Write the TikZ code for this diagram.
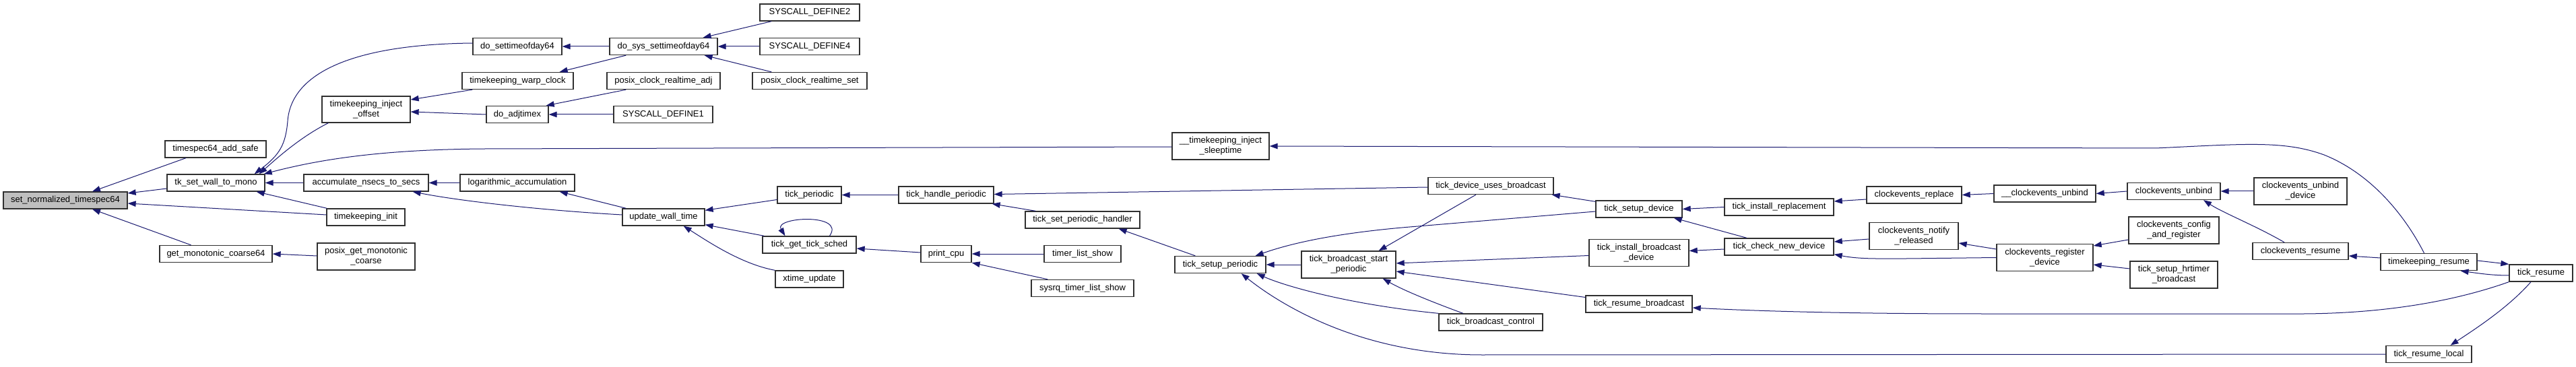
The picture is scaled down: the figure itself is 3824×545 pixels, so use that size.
\documentclass[tikz,border=0pt]{standalone}
\usepackage{fontspec}
\setmainfont{Liberation Sans}
\usetikzlibrary{arrows.meta}
\definecolor{edgec}{RGB}{25,25,112}
\definecolor{boxc}{RGB}{48,48,48}
\definecolor{rootfill}{RGB}{191,191,191}
\newcommand\gn[6]{\node[fn,minimum width=#4pt,minimum height=#5pt] (#1) at (#2,#3) {#6};}
\begin{document}
\begin{tikzpicture}[x=1pt,y=-1pt,
 fn/.style={draw=boxc,line width=1.3pt,fill=white,inner sep=0pt,align=center,font=\fontsize{13}{15}\selectfont},
 root/.style={fn,fill=rootfill},
 edge/.style={draw=edgec,line width=1pt,{Triangle[length=12pt,width=8.5pt]}-}]
\useasboundingbox (0,0) rectangle (3824,545);
\fill[white] (0,0) rectangle (3824,545);
% nodes
\node[root,minimum width=184pt,minimum height=25pt] (sn) at (97,297.5) {set\_normalized\_timespec64};
\gn{add}{320}{221.5}{150}{25}{timespec64\_add\_safe}
\gn{tkw}{320.5}{271.5}{145}{25}{tk\_set\_wall\_to\_mono}
\gn{gmc}{320.5}{377}{167}{25}{get\_monotonic\_coarse64}
\gn{tio}{543.5}{162.5}{131}{39}{timekeeping\_inject\\\_offset}
\gn{ans}{543.5}{271.5}{185}{25}{accumulate\_nsecs\_to\_secs}
\gn{tki}{543}{322.5}{116}{25}{timekeeping\_init}
\gn{pgm}{543.5}{381}{145}{40}{posix\_get\_monotonic\\\_coarse}
\gn{dst}{768}{69}{132}{25}{do\_settimeofday64}
\gn{twc}{768.5}{120}{165}{25}{timekeeping\_warp\_clock}
\gn{dax}{768}{170}{92}{25}{do\_adjtimex}
\gn{lac}{768}{271.5}{170}{25}{logarithmic\_accumulation}
\gn{dss}{985}{69}{160}{25}{do\_sys\_settimeofday64}
\gn{pca}{985}{120}{168}{25}{posix\_clock\_realtime\_adj}
\gn{sd1}{984.5}{170}{147}{25}{SYSCALL\_DEFINE1}
\gn{uwt}{985}{322.5}{122}{25}{update\_wall\_time}
\gn{sd2}{1202}{18.5}{148}{25}{SYSCALL\_DEFINE2}
\gn{sd4}{1202}{69}{148}{25}{SYSCALL\_DEFINE4}
\gn{pcs}{1202}{120}{170}{25}{posix\_clock\_realtime\_set}
\gn{tpe}{1201.5}{289.5}{95}{25}{tick\_periodic}
\gn{tgs}{1201.5}{363.5}{139}{25}{tick\_get\_tick\_sched}
\gn{xtu}{1201.5}{414.5}{101}{25}{xtime\_update}
\gn{thp}{1404.5}{289.5}{141}{25}{tick\_handle\_periodic}
\gn{pcpu}{1404.5}{377}{75}{25}{print\_cpu}
\gn{tsph}{1607}{326.5}{170}{25}{tick\_set\_periodic\_handler}
\gn{tls}{1607}{377}{114}{25}{timer\_list\_show}
\gn{stls}{1607}{428}{152}{25}{sysrq\_timer\_list\_show}
\gn{tis}{1812}{217}{144}{40}{\_\_timekeeping\_inject\\\_sleeptime}
\gn{tsp}{1811.5}{393}{135}{25}{tick\_setup\_periodic}
\gn{tbsp}{2002}{393}{140}{40}{tick\_broadcast\_start\\\_periodic}
\gn{tdub}{2213}{276}{186}{25}{tick\_device\_uses\_broadcast}
\gn{tbc}{2213}{478.5}{154}{25}{tick\_broadcast\_control}
\gn{tsd}{2433}{310.5}{128}{25}{tick\_setup\_device}
\gn{tibd}{2433}{375.5}{148}{40}{tick\_install\_broadcast\\\_device}
\gn{trb}{2433}{451.5}{158}{25}{tick\_resume\_broadcast}
\gn{tir}{2641}{307.5}{162}{25}{tick\_install\_replacement}
\gn{tcnd}{2641}{366.5}{162}{25}{tick\_check\_new\_device}
\gn{cer}{2841.5}{289.5}{141}{25}{clockevents\_replace}
\gn{cenr}{2841}{350.5}{132}{40}{clockevents\_notify\\\_released}
\gn{uceu}{3035.5}{287.5}{151}{25}{\_\_clockevents\_unbind}
\gn{cerd}{3035.5}{382.5}{143}{40}{clockevents\_register\\\_device}
\gn{ceu}{3227}{284}{138}{25}{clockevents\_unbind}
\gn{ceconf}{3227}{342}{134}{40}{clockevents\_config\\\_and\_register}
\gn{tshb}{3227}{408}{130}{40}{tick\_setup\_hrtimer\\\_broadcast}
\gn{ceud}{3415}{284}{138}{40}{clockevents\_unbind\\\_device}
\gn{cerm}{3415}{373}{142}{25}{clockevents\_resume}
\gn{tkr}{3605.5}{389}{143}{25}{timekeeping\_resume}
\gn{trl}{3605.5}{526}{127}{25}{tick\_resume\_local}
\gn{tr}{3772}{405.5}{94}{25}{tick\_resume}
% edges
\draw[edge] ([xshift=40pt]sn.north) -- ([xshift=-44pt]add.south);
\draw[edge] ([yshift=10.5pt]sn.east) -- ([yshift=-8.5pt]tkw.west);
\draw[edge] ([yshift=-4.5pt]sn.east) -- ([yshift=3.5pt]tki.west);
\draw[edge] ([xshift=40pt]sn.south) -- ([xshift=-37pt]gmc.north);
\draw[edge] ([xshift=-16pt]tkw.north east) .. controls (415,230) and (424,215) .. (427,180) .. controls (432,110) and (520,66) .. ([yshift=5pt]dst.west);
\draw[edge] ([xshift=-9pt]tkw.north east) .. controls (410,236) and (445,204) .. ([xshift=10pt]tio.south west);
\draw[edge] ([xshift=-2pt]tkw.north east) .. controls (470,238) and (560,222) .. (720,221) -- ([yshift=-1pt]tis.west);
\draw[edge] (tkw.east) -- (ans.west);
\draw[edge] ([xshift=-13pt]tkw.south east) -- ([xshift=1pt]tki.north west);
\draw[edge] (gmc.east) -- ([yshift=1pt]pgm.west);
\draw[edge] ([yshift=14.5pt]tio.east) -- ([xshift=16pt]twc.south west);
\draw[edge] ([yshift=-3.5pt]tio.east) -- (dax.west);
\draw[edge] (ans.east) -- (lac.west);
\draw[edge] ([xshift=-24pt]ans.south east) .. controls (680,298) and (800,312) .. ([yshift=3.5pt]uwt.west);
\draw[edge] (dst.east) -- (dss.west);
\draw[edge] ([xshift=-21pt]twc.north east) -- ([xshift=25pt]dss.south west);
\draw[edge] ([xshift=-22pt]dss.north east) -- ([xshift=18pt]sd2.south west);
\draw[edge] (dss.east) -- (sd4.west);
\draw[edge] ([xshift=-20pt]dss.south east) -- ([xshift=29pt]pcs.north west);
\draw[edge] ([xshift=-4pt]dax.north east) -- ([xshift=29pt]pca.south west);
\draw[edge] (dax.east) -- (sd1.west);
\draw[edge] ([xshift=-23pt]lac.south east) -- ([xshift=6pt]uwt.north west);
\draw[edge] ([yshift=-3pt]uwt.north east) -- ([yshift=-7pt]tpe.west);
\draw[edge] ([yshift=2pt]uwt.south east) -- ([xshift=3pt]tgs.north west);
\draw[edge] ([xshift=-32pt]uwt.south east) .. controls (1050,358) and (1100,392) .. (xtu.north west);
\draw[edge] ([xshift=-36pt]tgs.north) .. controls (1148,322) and (1256,316) .. ([xshift=30pt]tgs.north);
\draw[edge] (tpe.east) -- (thp.west);
\draw[edge] ([yshift=-5.5pt]tgs.east) -- ([yshift=2pt]pcpu.west);
\draw[edge] ([xshift=-3pt]thp.south east) -- ([xshift=16pt]tsph.north west);
\draw[edge] ([yshift=1pt]thp.east) -- ([yshift=-2pt]tdub.west);
\draw[edge] (pcpu.east) -- (tls.west);
\draw[edge] (pcpu.south east) -- ([xshift=25pt]stls.north west);
\draw[edge] ([xshift=-32pt]tsph.south east) -- ([xshift=31pt]tsp.north west);
\draw[edge] (tis.east) -- (3200,220) .. controls (3330,214) and (3390,208) .. (3450,230) .. controls (3520,258) and (3570,320) .. ([xshift=-7pt]tkr.north);
\draw[edge] (tsp.east) -- (tbsp.west);
\draw[edge] ([xshift=-16pt]tsp.north east) .. controls (1920,360) and (1990,345) .. (2105,336) -- ([yshift=-3.5pt]tsd.west);
\draw[edge] ([xshift=-14pt]tsp.south east) .. controls (1905,424) and (2000,452) .. (tbc.north west);
\draw[edge] ([xshift=-37pt]tsp.south east) .. controls (1900,452) and (2020,527) .. (2200,527) -- (trl.west);
\draw[edge] ([xshift=-26pt]tbsp.north east) -- ([xshift=-22pt]tdub.south);
\draw[edge] ([yshift=2pt]tbsp.east) -- ([yshift=-4pt]tibd.west);
\draw[edge] ([yshift=-10pt]tbsp.east) -- ([yshift=10pt]trb.west);
\draw[edge] ([xshift=-20pt]tbsp.south east) .. controls (2085,432) and (2130,450) .. ([xshift=-41pt]tbc.north);
\draw[edge] ([xshift=-3pt]tdub.south east) -- ([yshift=-2pt]tsd.north west);
\draw[edge] (tsd.east) -- (tir.west);
\draw[edge] ([xshift=-13pt]tsd.south east) -- ([xshift=-48pt]tcnd.north);
\draw[edge] ([yshift=3pt]tibd.east) -- ([yshift=-3.5pt]tcnd.west);
\draw[edge] ([yshift=-5.5pt]trb.east) .. controls (2650,464) and (2800,466) .. (2950,466) -- (3420,466) .. controls (3550,465) and (3650,445) .. (tr.south west);
\draw[edge] ([yshift=8.5pt]tir.east) -- ([yshift=-6.5pt]cer.west);
\draw[edge] ([yshift=7.5pt]tcnd.east) -- ([yshift=-4.5pt]cenr.west);
\draw[edge] ([yshift=2pt]tcnd.south east) .. controls (2760,385) and (2790,384) .. (2830,384) -- (cerd.west);
\draw[edge] (cer.east) -- (uceu.west);
\draw[edge] ([yshift=-10.5pt]cenr.east) -- ([yshift=12.5pt]cerd.west);
\draw[edge] (uceu.east) -- (ceu.west);
\draw[edge] ([yshift=17.5pt]cerd.east) -- ([yshift=-14pt]ceconf.west);
\draw[edge] ([yshift=-10.5pt]cerd.east) -- ([yshift=9pt]tshb.west);
\draw[edge] (ceu.east) -- (ceud.west);
\draw[edge] ([xshift=44pt]ceu.south) .. controls (3300,316) and (3350,336) .. ([xshift=-24pt]cerm.north);
\draw[edge] ([yshift=-7pt]cerm.east) -- ([yshift=6pt]tkr.west);
\draw[edge] ([xshift=47pt]tkr.south) .. controls (3680,406) and (3700,409) .. ([yshift=-3.5pt]tr.west);
\draw[edge] (tr.north west) -- ([yshift=2pt]tkr.east);
\draw[edge] ([xshift=32pt]trl.north) .. controls (3680,485) and (3725,455) .. ([xshift=-15pt]tr.south);
\end{tikzpicture}
\end{document}
